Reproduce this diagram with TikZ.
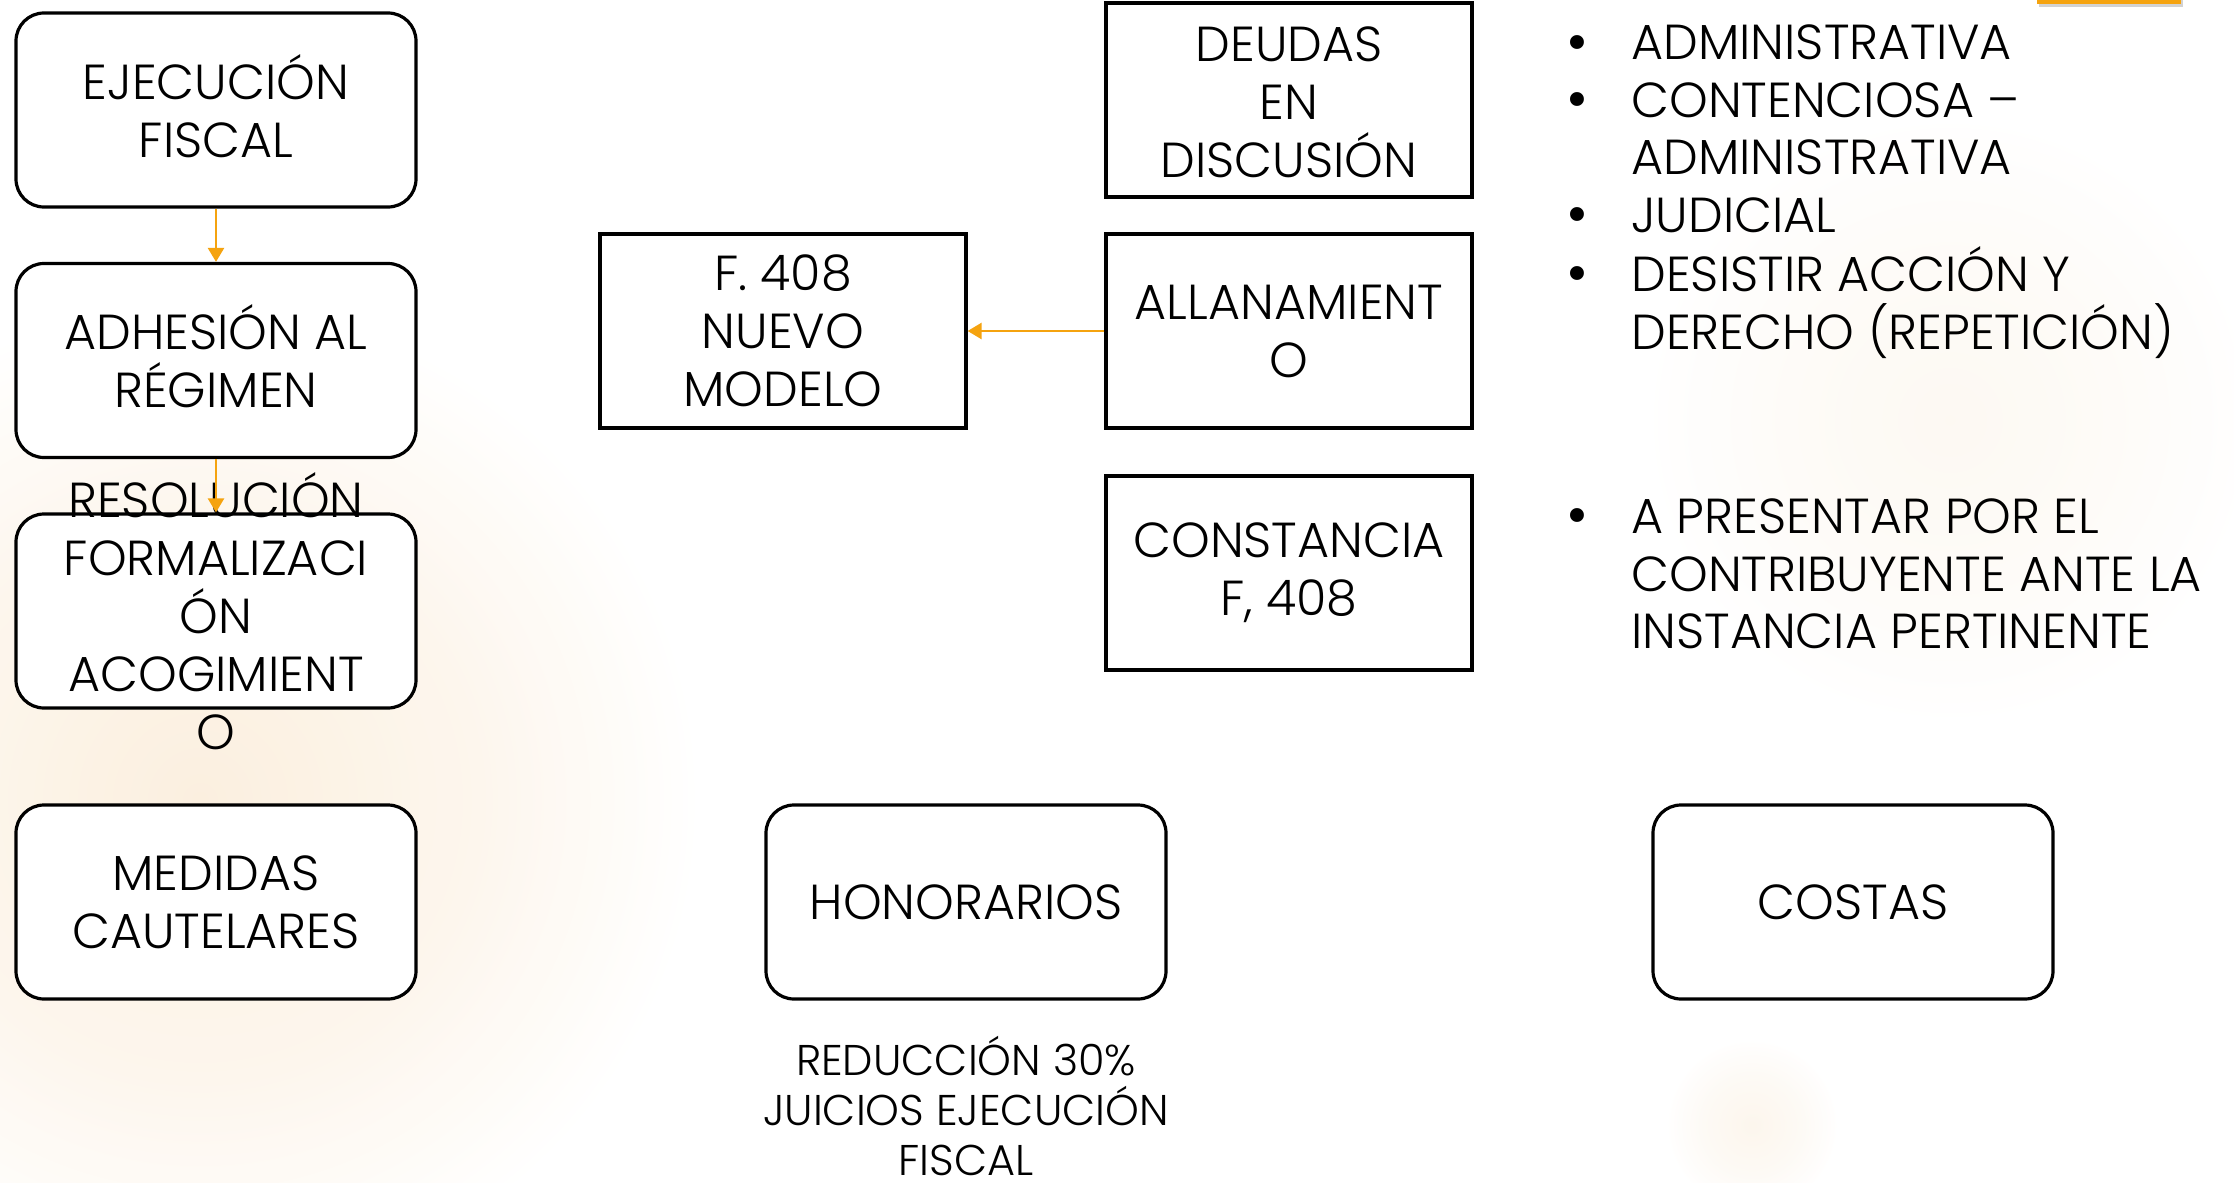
\documentclass[tikz,border=0pt]{standalone}
\usepackage{fontspec}
\setmainfont{Poppins}[UprightFont=* Light]
\usetikzlibrary{arrows.meta,shadows}
\definecolor{orng}{HTML}{F5A30F}
\definecolor{glowc}{HTML}{FBEEDC}
\definecolor{glowd}{HTML}{FDF6EC}
\pgfdeclareradialshading{glowsh}{\pgfpoint{0bp}{0bp}}{color(0bp)=(glowc); color(14bp)=(glowd); color(25bp)=(white); color(50bp)=(white)}
\begin{document}
\begin{tikzpicture}[x=0.5pt,y=-0.5pt,
  rbox/.style={draw=black, line width=1.6pt, rounded corners=14pt, fill=white, minimum width=200pt, minimum height=97pt, inner sep=0pt},
  sbox/.style={draw=black, line width=1.6pt, fill=white, minimum width=183pt, minimum height=97pt, inner sep=0pt},
  txt/.style={align=center, font=\fontsize{24.6}{29}\selectfont, inner sep=0pt},
  smalltxt/.style={align=center, font=\fontsize{21.5}{25}\selectfont, inner sep=0pt},
  itm/.style={anchor=base west, font=\fontsize{24.6}{29}\selectfont, inner sep=0pt},
  bul/.style={anchor=base, font=\fontsize{30}{29}\selectfont, inner sep=0pt},
  arr/.style={draw=orng, line width=1.2pt, -{Triangle[width=8pt,length=7pt]}}]
\useasboundingbox (0,0) rectangle (2234,1183);
\fill[white] (0,0) rectangle (2234,1183);
% background glows
\shade[shading=glowsh, opacity=0.9] (200,800) circle (500);
\shade[shading=glowsh, opacity=0.35] (1950,420) circle (300);
\shade[shading=glowsh, opacity=0.5] (1752,1125) circle (85);
% top-right bar
\fill[orng, drop shadow={shadow xshift=1pt, shadow yshift=-1.5pt, opacity=0.35}] (2037,-10) rectangle (2181,4);
% boxes
\node[rbox] (ej) at (216,110) {};
\node[rbox] (ad) at (216,360.5) {};
\node[rbox] (fo) at (216,611) {};
\node[rbox] (me) at (216,902) {};
\node[rbox] (ho) at (966,902) {};
\node[rbox] (co) at (1853,902) {};
\node[sbox] (f408) at (783,331) {};
\node[sbox] (de) at (1289,100) {};
\node[sbox] (al) at (1289,331) {};
\node[sbox] (cn) at (1289,573) {};
% box texts
\node[txt] (tej) at ([yshift=2pt]ej) {EJECUCIÓN\\FISCAL};
\node[txt] (tad) at ([yshift=2pt]ad) {ADHESIÓN AL\\RÉGIMEN};
\node[txt] (tfo) at (fo) {RESOLUCIÓN\\FORMALIZACI\\ÓN\\ACOGIMIENT\\O};
\node[txt] (tme) at (me) {MEDIDAS\\CAUTELARES};
\node[txt] (tho) at (ho) {HONORARIOS};
\node[txt] (tco) at (co) {COSTAS};
\node[txt] (tf408) at (f408) {F. 408\\NUEVO\\MODELO};
\node[txt] (tde) at ([yshift=-1pt]de) {DEUDAS\\EN\\DISCUSIÓN};
\node[txt] (tal) at (al) {ALLANAMIENT\\O};
\node[txt] (tcn) at (cn) {CONSTANCIA\\F, 408};
\node[smalltxt] (tred) at (966,1106) {REDUCCIÓN 30\%\\JUICIOS EJECUCIÓN\\FISCAL};
% bullet lists
\node[bul] (b1) at (1577,62) {•};
\node[itm] (l1) at (1631,60) {ADMINISTRATIVA};
\node[bul] (b2) at (1577,119) {•};
\node[itm] (l2) at (1631,117) {CONTENCIOSA –};
\node[itm] (l3) at (1631,174) {ADMINISTRATIVA};
\node[bul] (b3) at (1577,234) {•};
\node[itm] (l4) at (1631,232) {JUDICIAL};
\node[bul] (b4) at (1577,293) {•};
\node[itm] (l5) at (1631,291) {DESISTIR ACCIÓN Y};
\node[itm] (l6) at (1631,349) {DERECHO (REPETICIÓN)};
\node[bul] (b5) at (1577,535) {•};
\node[itm] (l7) at (1631,533) {A PRESENTAR POR EL};
\node[itm] (l8) at (1631,591) {CONTRIBUYENTE ANTE LA};
\node[itm] (l9) at (1631,648) {INSTANCIA PERTINENTE};
% connectors
\draw[arr] (ej.south) -- (ad.north);
\draw[arr] (ad.south) -- (fo.north);
\draw[arr] (al.west) -- (f408.east);
\end{tikzpicture}
\end{document}
